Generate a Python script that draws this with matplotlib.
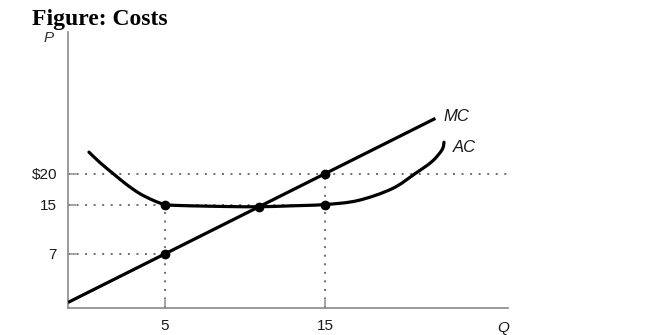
import matplotlib
matplotlib.use("Agg")
import matplotlib.pyplot as plt
from matplotlib.path import Path
from matplotlib.patches import PathPatch

# quantity / cost values for the two curves
ac_q = [0.25, 0.94, 1.77, 2.6, 3.44, 4.27, 5, 5.94, 7.375, 9.06, 10.875,
        12.8, 15, 17.06, 19.19, 20.625, 21.69, 22.31, 22.44]
ac_p = [23.5, 21.8, 20, 18.25, 16.75, 15.68, 15, 14.84, 14.75, 14.67, 14.64,
        14.78, 15, 15.65, 17.56, 20, 21.98, 23.86, 25.1]

mc_q = [-1.06, 5, 15, 21.9]
mc_p = [-0.88, 7, 20, 28.97]

# highlighted points
dot_q = [5, 5, 15, 15, 10.875]
dot_p = [15, 7, 20, 15, 14.64]

y_ticks = [7, 15, 20]
y_labels = ["7", "15", "$20"]
x_ticks = [5, 15]
x_labels = ["5", "15"]


def smooth_path(xs, ys):
    # catmull-rom through the points, written as cubic bezier segments
    pts = list(zip(xs, ys))
    verts = [pts[0]]
    codes = [Path.MOVETO]
    n = len(pts)
    for i in range(n - 1):
        p0 = pts[max(i - 1, 0)]
        p1 = pts[i]
        p2 = pts[i + 1]
        p3 = pts[min(i + 2, n - 1)]
        c1 = (p1[0] + (p2[0] - p0[0]) / 6, p1[1] + (p2[1] - p0[1]) / 6)
        c2 = (p2[0] - (p3[0] - p1[0]) / 6, p2[1] - (p3[1] - p1[1]) / 6)
        verts += [c1, c2, p2]
        codes += [Path.CURVE4] * 3
    return Path(verts, codes)


plt.rcParams["font.family"] = ["Liberation Sans", "DejaVu Sans"]

fig = plt.figure(figsize=(6.5, 3.35), dpi=100)
ax = fig.add_axes([0.1046, 0.0806, 0.677, 0.8248])
ax.set_xlim(-1.06, 26.44)
ax.set_ylim(-1.78, 43.03)

dot_style = dict(color="#6e6e6e", lw=1.4, linestyle=(0, (1, 3.4)), zorder=1)
xmin = ax.get_xlim()[0]
ymin = ax.get_ylim()[0]
# guide lines
ax.plot([xmin, ax.get_xlim()[1]], [20, 20], **dot_style)
ax.plot([xmin, 15], [15, 15], **dot_style)
ax.plot([xmin, 5], [7, 7], **dot_style)
ax.plot([5, 5], [ymin, 15], **dot_style)
ax.plot([15, 15], [ymin, 20], **dot_style)

ax.add_patch(PathPatch(smooth_path(ac_q, ac_p), fill=False, edgecolor="black",
                       lw=2.3, capstyle="round", zorder=3))
ax.plot(mc_q, mc_p, color="black", lw=2.3, solid_capstyle="butt", zorder=3)
ax.plot(dot_q, dot_p, "o", color="black", ms=6, zorder=4)

ax.text(22.4, 29.2, "MC", style="italic", fontsize=12, va="center", ha="left",
        color="#1a1a1a")
ax.text(22.97, 24.17, "AC", style="italic", fontsize=12, va="center", ha="left",
        color="#1a1a1a")

for s in ["top", "right"]:
    ax.spines[s].set_visible(False)
for s in ["left", "bottom"]:
    ax.spines[s].set_color("#8a8a8a")
    ax.spines[s].set_linewidth(1.2)

ax.set_yticks(y_ticks)
ax.set_yticklabels(y_labels)
ax.set_xticks(x_ticks)
ax.set_xticklabels(x_labels)
ax.tick_params(direction="in", length=6, width=1.1, color="#8a8a8a",
               labelsize=11, labelcolor="#1a1a1a", pad=8)

fig.text(0.074, 0.887, "P", style="italic", fontsize=11, ha="center",
         va="center", color="#333333")
fig.text(0.774, 0.021, "Q", style="italic", fontsize=11, ha="center",
         va="center", color="#1a1a1a")
fig.text(0.049, 0.925, "Figure: Costs", family="Liberation Serif",
         weight="bold", fontsize=17, ha="left", va="baseline")

fig.savefig("out.png", dpi=100)
